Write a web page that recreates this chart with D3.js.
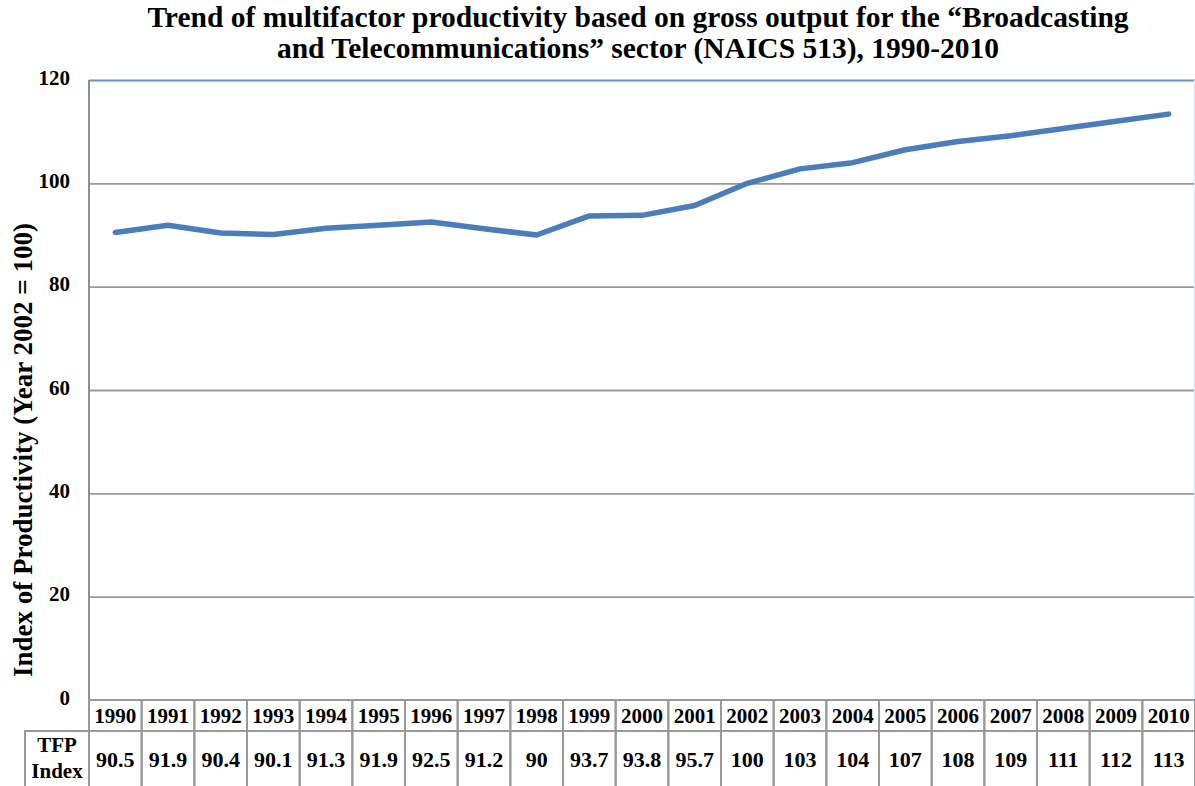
<!DOCTYPE html>
<html>
<head>
<meta charset="utf-8">
<script src="https://cdn.jsdelivr.net/npm/d3@7"></script>
<style>
  body { margin: 0; background: #fff; }
  text { font-family: "Liberation Serif", "Times New Roman", serif; font-weight: bold; fill: #000; }
</style>
</head>
<body>
<script>
// Chart data
var years = ["1990", "1991", "1992", "1993", "1994", "1995", "1996", "1997", "1998", "1999", "2000",
  "2001", "2002", "2003", "2004", "2005", "2006", "2007", "2008", "2009", "2010"];
// values
var tfpValues = [90.5, 91.9, 90.4, 90.1, 91.3, 91.9, 92.5, 91.2, 90, 93.7, 93.8,
  95.7, 100, 102.8, 104, 106.5, 108.1, 109.2, 110.6, 112, 113.4];
// values as printed in the table
var tfpLabels = ["90.5", "91.9", "90.4", "90.1", "91.3", "91.9", "92.5", "91.2", "90", "93.7", "93.8",
  "95.7", "100", "103", "104", "107", "108", "109", "111", "112", "113"];
var yTicks = [0, 20, 40, 60, 80, 100, 120];

var svgWidth = 1195;
var svgHeight = 786;

var margin = { top: 80, right: 0, bottom: 86, left: 89 };
var chartWidth = svgWidth - margin.left - margin.right;
var chartHeight = svgHeight - margin.top - margin.bottom;

var svg = d3.select("body")
  .append("svg")
  .attr("width", svgWidth)
  .attr("height", svgHeight);

// Title
svg.append("text")
  .attr("x", 638)
  .attr("y", 27)
  .attr("text-anchor", "middle")
  .style("font-size", "29.5px")
  .text("Trend of multifactor productivity based on gross output for the \u201cBroadcasting");
svg.append("text")
  .attr("x", 638)
  .attr("y", 58)
  .attr("text-anchor", "middle")
  .style("font-size", "29.5px")
  .text("and Telecommunications\u201d sector (NAICS 513), 1990-2010");

var chartGroup = svg.append("g")
  .attr("transform", `translate(${margin.left}, ${margin.top})`);

var xBand = d3.scaleBand()
  .domain(years)
  .range([0, chartWidth]);

var yLinearScale = d3.scaleLinear()
  .domain([0, 120])
  .range([chartHeight, 0]);

// Gridlines + tick labels
var leftAxis = d3.axisLeft(yLinearScale)
  .tickValues(yTicks)
  .tickSize(-chartWidth)
  .tickPadding(19);

chartGroup.append("g")
  .call(leftAxis)
  .call(g => g.select(".domain").remove())
  .call(g => g.selectAll(".tick line")
    .attr("stroke", d => d === 120 ? "#6a8fc4" : "#999")
    .attr("stroke-width", d => d === 0 ? 0 : 1.8))
  .call(g => g.selectAll(".tick text")
    .style("font-size", "21px")
    .attr("dy", "0.2em"));

// Left axis line
chartGroup.append("line")
  .attr("x1", 0).attr("x2", 0)
  .attr("y1", 0).attr("y2", chartHeight)
  .attr("stroke", "#8a9099")
  .attr("stroke-width", 2);

// Right edge of plot
chartGroup.append("line")
  .attr("x1", chartWidth - 0.5).attr("x2", chartWidth - 0.5)
  .attr("y1", 0).attr("y2", chartHeight)
  .attr("stroke", "#e0e6ee")
  .attr("stroke-width", 1);

// Y axis title
svg.append("text")
  .attr("transform", "translate(32, 450) rotate(-90)")
  .attr("text-anchor", "middle")
  .style("font-size", "27px")
  .text("Index of Productivity (Year 2002 = 100)");

// Data line
var drawLine = d3.line()
  .x((d, i) => xBand(years[i]) + xBand.bandwidth() / 2)
  .y(d => yLinearScale(d));

chartGroup.append("path")
  .attr("d", drawLine(tfpValues))
  .attr("fill", "none")
  .attr("stroke", "#4a7ebb")
  .attr("stroke-width", 5.5)
  .attr("stroke-linecap", "round")
  .attr("stroke-linejoin", "round");

// Data table
var rowTop = chartHeight;
var rowMid = chartHeight + 31;
var rowBottom = svgHeight + 20 - margin.top;
var table = chartGroup.append("g");
var cellStroke = "#999";

table.selectAll(".year-cell")
  .data(years)
  .join("rect")
  .attr("x", d => xBand(d))
  .attr("y", rowTop)
  .attr("width", xBand.bandwidth())
  .attr("height", rowMid - rowTop)
  .attr("fill", "none")
  .attr("stroke", cellStroke)
  .attr("stroke-width", 2);

table.selectAll(".val-cell")
  .data(years)
  .join("rect")
  .attr("x", d => xBand(d))
  .attr("y", rowMid)
  .attr("width", xBand.bandwidth())
  .attr("height", rowBottom - rowMid)
  .attr("fill", "none")
  .attr("stroke", cellStroke)
  .attr("stroke-width", 2);

// header cell for values row
table.append("rect")
  .attr("x", 25 - margin.left)
  .attr("y", rowMid)
  .attr("width", margin.left - 25)
  .attr("height", rowBottom - rowMid)
  .attr("fill", "none")
  .attr("stroke", cellStroke)
  .attr("stroke-width", 2);

table.selectAll(".year-label")
  .data(years)
  .join("text")
  .attr("x", d => xBand(d) + xBand.bandwidth() / 2)
  .attr("y", rowTop + 23)
  .attr("text-anchor", "middle")
  .style("font-size", "21px")
  .text(d => d);

table.selectAll(".val-label")
  .data(tfpLabels)
  .join("text")
  .attr("x", (d, i) => xBand(years[i]) + xBand.bandwidth() / 2)
  .attr("y", rowMid + 36)
  .attr("text-anchor", "middle")
  .style("font-size", "22px")
  .text(d => d);

table.append("text")
  .attr("x", (25 - margin.left) / 2)
  .attr("y", rowMid + 21)
  .attr("text-anchor", "middle")
  .style("font-size", "21px")
  .text("TFP");
table.append("text")
  .attr("x", (25 - margin.left) / 2)
  .attr("y", rowMid + 47)
  .attr("text-anchor", "middle")
  .style("font-size", "21px")
  .text("Index");
</script>
</body>
</html>
